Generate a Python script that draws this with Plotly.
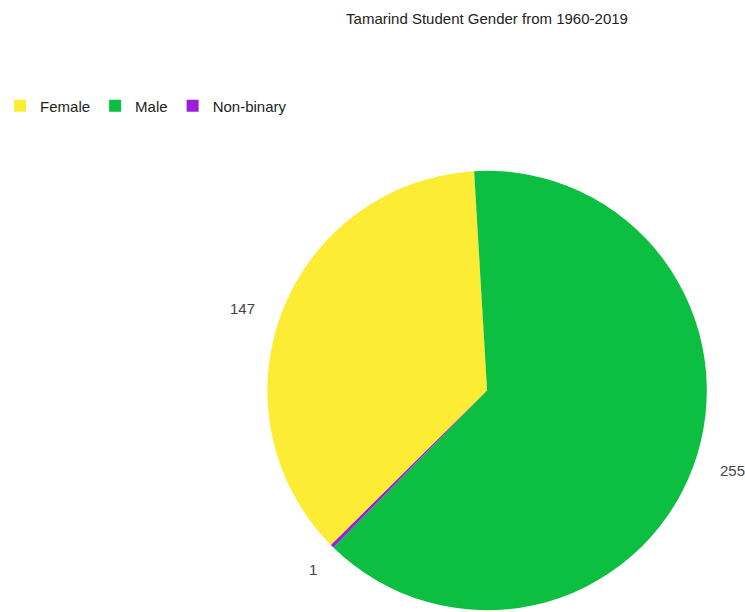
import math
import plotly.graph_objects as go

labels = ["Female", "Male", "Non-binary"]
values = [147, 255, 1]
colors = ["#fcec33", "#0cbf40", "#9b1fd8"]
title_text = "Tamarind Student Gender from 1960-2019"

W, H = 745, 612
# pie geometry in pixels (center x, top of domain, nominal radius)
cx, top, rad = 485, 169, 221.5
cy = top + rad
rotation = 225.3       # start angle of first slice (clockwise from 12 o'clock)
label_gap = 25         # distance of value labels outside the rim
label_turn = -1.5      # small angular offset of the value labels

y0 = max(0.0, 1 - (top + 2 * rad) / H)
fig = go.Figure()
fig.add_trace(go.Pie(
    labels=labels,
    values=values,
    marker=dict(colors=colors, line=dict(width=0)),
    sort=False,
    direction="clockwise",
    rotation=rotation,
    textinfo="none",
    domain=dict(x=[(cx - rad) / W, (cx + rad) / W], y=[y0, 1 - top / H]),
    hoverinfo="label+value+percent",
))

# value labels placed outside the rim at each slice's mid-angle
total = sum(values)
cum = 0
for lab, v in zip(labels, values):
    mid = math.radians(rotation + label_turn + (cum + v / 2) / total * 360)
    cum += v
    d = rad + label_gap
    px = cx + d * math.sin(mid)
    py = cy - d * math.cos(mid)
    fig.add_annotation(
        x=px / W, y=1 - py / H, xref="paper", yref="paper",
        text=str(v), showarrow=False,
        xanchor="left" if math.sin(mid) >= 0 else "right", yanchor="middle",
        font=dict(family="Liberation Sans, Arial, sans-serif", size=15, color="#444444"),
    )

fig.update_layout(
    width=W, height=H,
    margin=dict(l=0, r=0, t=0, b=0),
    paper_bgcolor="white",
    plot_bgcolor="white",
    font=dict(family="Liberation Sans, Arial, sans-serif", size=15, color="#333333"),
    title=dict(text=title_text, x=487 / W, xanchor="center", y=1 - 19 / H, yanchor="middle",
               font=dict(size=15, color="#222222")),
    legend=dict(orientation="h", x=-0.008, xanchor="left", y=1 - 106 / H, yanchor="middle",
                font=dict(size=15, color="#222222"), itemwidth=30, traceorder="normal"),
)

fig.write_html("out.html")
